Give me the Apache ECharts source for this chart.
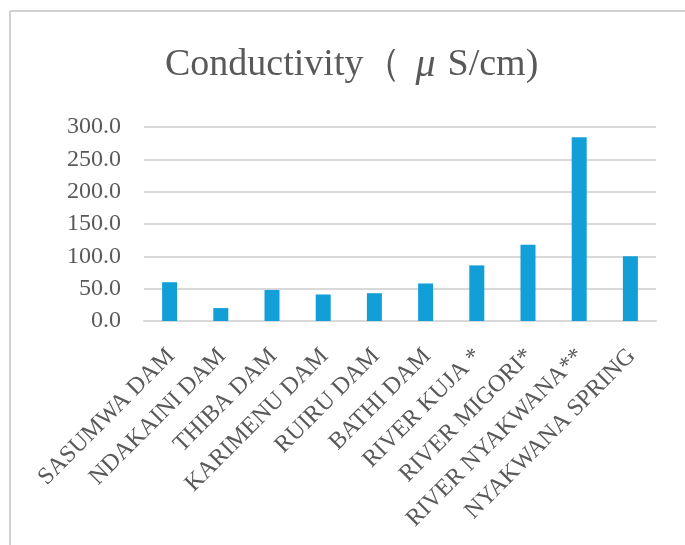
<!DOCTYPE html>
<html>
<head>
<meta charset="utf-8">
<script src="https://cdn.jsdelivr.net/npm/echarts@6/dist/echarts.min.js"></script>
<style>html,body{margin:0;padding:0;background:#fff;}#c{width:685px;height:545px;}</style>
</head>
<body>
<div id="c"></div>
<script>
const categories = ['SASUMWA DAM','NDAKAINI DAM','THIBA DAM','KARIMENU DAM','RUIRU DAM','BATHI DAM','RIVER KUJA *','RIVER MIGORI*','RIVER NYAKWANA**','NYAKWANA SPRING'];
const conductivity = [60, 20, 48, 41, 43, 58, 86, 118, 284, 100];
const yTicks = [0, 50, 100, 150, 200, 250, 300];
const titleParts = ['Conductivity（', 'μ', 'S/cm)'];

const font = '"Liberation Serif", "DejaVu Serif", serif';
const chart = echarts.init(document.getElementById('c'));
chart.setOption({
  backgroundColor: '#fff',
  animation: false,
  title: {
    text: '{a|' + titleParts[0] + '}{m|' + titleParts[1] + '}{a|' + titleParts[2] + '}',
    left: 160,
    top: 40,
    textStyle: {
      fontFamily: font, fontSize: 38, fontWeight: 'normal', color: '#595959',
      rich: {
        a: { fontFamily: font, fontSize: 38, color: '#595959' },
        m: { fontFamily: font, fontSize: 40, color: '#595959', fontStyle: 'italic', padding: [0, 12, 0, 14] }
      }
    }
  },
  grid: { left: 144, right: 29, top: 127, bottom: 224 },
  xAxis: {
    type: 'category',
    data: categories,
    axisLine: { lineStyle: { color: '#d9d9d9', width: 2 } },
    axisTick: { show: false },
    axisLabel: { rotate: 45, interval: 0, fontFamily: font, fontSize: 24, color: '#595959', margin: 16, verticalAlign: 'top', padding: [0, 10, 0, 0] }
  },
  yAxis: {
    type: 'value',
    min: yTicks[0],
    max: yTicks[yTicks.length - 1],
    interval: 50,
    axisLine: { show: false },
    axisTick: { show: false },
    splitLine: { lineStyle: { color: '#d9d9d9', width: 2 } },
    axisLabel: { fontFamily: font, fontSize: 24, color: '#595959', margin: 23, formatter: v => v.toFixed(1) }
  },
  series: [{
    type: 'bar',
    data: conductivity,
    barWidth: 15,
    itemStyle: { color: '#129fd7' }
  }],
  graphic: [
    { type: 'line', shape: { x1: 10, y1: 11, x2: 685, y2: 11 }, style: { stroke: '#d0d0d0', lineWidth: 2 } },
    { type: 'line', shape: { x1: 10, y1: 11, x2: 10, y2: 545 }, style: { stroke: '#d0d0d0', lineWidth: 2 } }
  ]
});
</script>
</body>
</html>
